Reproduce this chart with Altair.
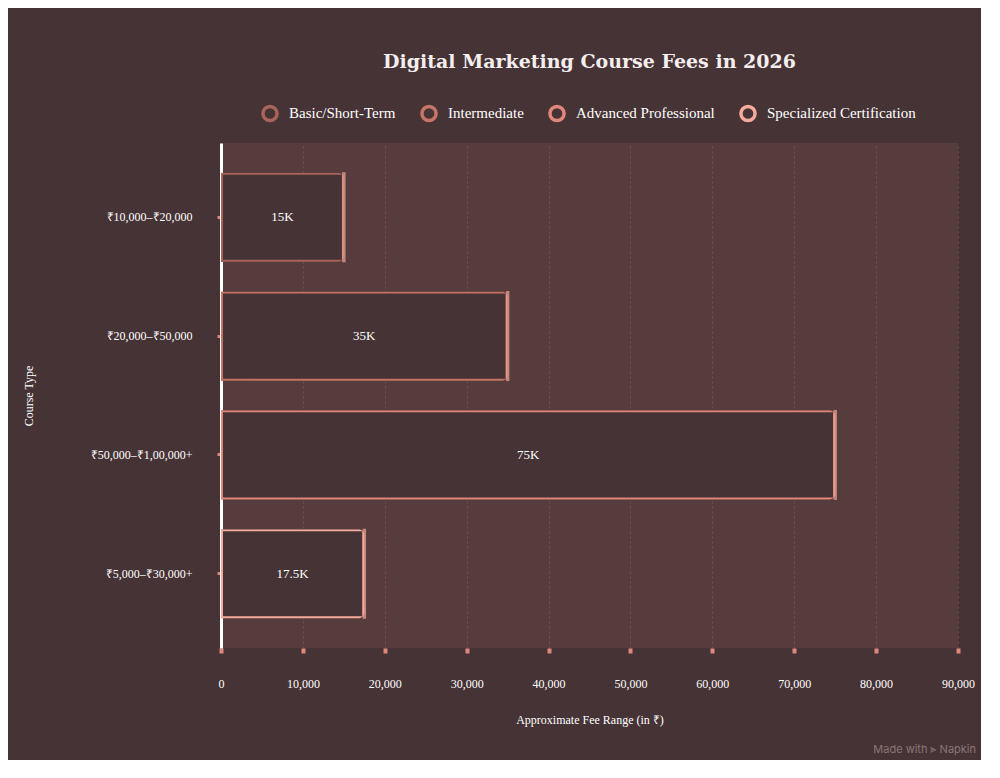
import altair as alt
import pandas as pd

fee_ranges = ["₹10,000–₹20,000", "₹20,000–₹50,000", "₹50,000–₹1,00,000+", "₹5,000–₹30,000+"]
course_types = ["Basic/Short-Term", "Intermediate", "Advanced Professional", "Specialized Certification"]
fees = [15000, 35000, 75000, 17500]
fee_labels = ["15K", "35K", "75K", "17.5K"]
course_colors = ["#a8635a", "#c57466", "#e0877a", "#f5ab9c"]

BG = "#463335"
PLOT_BG = "#573c3d"
SERIF = "Liberation Serif"

frame = pd.DataFrame(
    {"range": fee_ranges, "course": course_types, "fee": fees, "label": fee_labels, "half": [f / 2 for f in fees]}
)

y_enc = alt.Y(
    "range:N",
    sort=fee_ranges,
    scale=alt.Scale(paddingInner=0.25, paddingOuter=0.25),
    axis=alt.Axis(
        title="Course Type",
        titlePadding=55,
        labelPadding=25,
        domainColor="#ffffff",
        domainWidth=3,
        tickColor="#e0877a",
        tickSize=4,
        tickWidth=3,
    ),
)

base = alt.Chart(frame)

bars = base.mark_bar(fill=BG, strokeWidth=4, cornerRadiusEnd=6).encode(
    x=alt.X(
        "fee:Q",
        scale=alt.Scale(domain=[0, 90000], nice=False),
        axis=alt.Axis(
            title="Approximate Fee Range (in ₹)",
            values=list(range(0, 90001, 10000)),
            format=",d",
            domain=False,
            grid=True,
            gridColor="#85574d",
            gridDash=[2, 3],
            gridOpacity=0.7,
            tickColor="#e0877a",
            tickSize=5,
            tickWidth=4,
            labelFlush=False,
            labelPadding=25,
            titlePadding=25,
        ),
    ),
    y=y_enc,
    stroke=alt.Color(
        "course:N",
        sort=course_types,
        scale=alt.Scale(domain=course_types, range=course_colors),
        legend=alt.Legend(
            title=None,
            orient="none",
            legendX=40,
            legendY=-39,
            direction="horizontal",
            symbolType="circle",
            symbolSize=200,
            symbolStrokeWidth=3.5,
            symbolFillColor=BG,
            columnPadding=18,
            labelOffset=10,
            labelFontSize=15,
            padding=0,
        ),
    ),
)

caps = base.mark_tick(color="#f4a797", thickness=3.5, size=90).encode(
    x="fee:Q",
    y=alt.Y("range:N", sort=fee_ranges),
)

labels = base.mark_text(color="#ffffff", font=SERIF, fontSize=13).encode(
    x="half:Q",
    y=alt.Y("range:N", sort=fee_ranges),
    text="label:N",
)

credit = alt.Chart(pd.DataFrame({"t": ["Made with ⫸ Napkin"]})).mark_text(
    color="#8a7677", font="Inter", fontSize=11, align="right"
).encode(x=alt.value(755), y=alt.value(607), text="t:N")

chart = (
    alt.layer(bars, caps, labels, credit)
    .properties(
        width=737,
        height=505,
        padding={"left": 14, "top": 45, "right": 5, "bottom": 5},
        title=alt.Title(
            "Digital Marketing Course Fees in 2026",
            font="DejaVu Serif",
            fontSize=19,
            fontWeight="bold",
            color="#f4eeee",
            offset=32,
        ),
    )
    .configure(background=BG, font=SERIF)
    .configure_view(fill=PLOT_BG, stroke=None)
    .configure_axis(
        labelColor="#ffffff",
        titleColor="#ffffff",
        labelFont=SERIF,
        titleFont=SERIF,
        labelFontSize=12,
        titleFontSize=12,
        titleFontWeight="normal",
    )
    .configure_legend(labelColor="#ffffff", labelFont=SERIF)
)

chart.save("out.html", embed_options={"renderer": "svg", "actions": False})
